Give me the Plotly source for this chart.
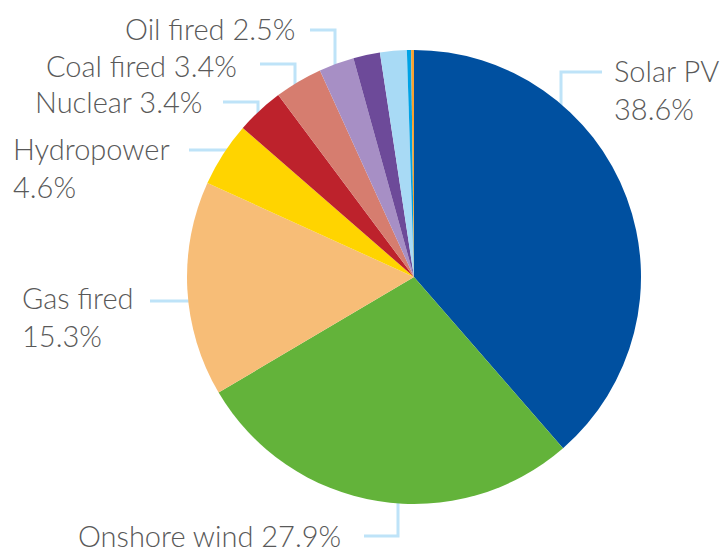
import plotly.graph_objects as go

W, H = 723, 552

# ---- data ----
labels = ["Solar PV", "Onshore wind", "Gas fired", "Hydropower", "Nuclear",
          "Coal fired", "Oil fired", "Other A", "Other B", "Other C", "Other D"]
values = [38.6, 27.9, 15.3, 4.6, 3.4, 3.4, 2.5, 1.9, 1.9, 0.3, 0.2]
colors = ["#0050A0", "#63B33A", "#F7BD77", "#FFD400", "#BD222C",
          "#D67D6F", "#A78FC5", "#6D4A99", "#A8DAF5", "#00A2E5", "#F7A02E"]

# ---- label layout (pixel positions) ----
label_specs = {
    "Solar PV":     dict(x=612, y=89.5, anchor="left", br=True,
                         path=[(602, 72), (561, 72), (561, 110)]),
    "Onshore wind": dict(x=343, y=535, anchor="right", br=False,
                         path=[(364, 536), (398, 536), (398, 495)]),
    "Gas fired":    dict(x=20, y=316.5, anchor="left", br=True,
                         path=[(150, 301), (200, 301)]),
    "Hydropower":   dict(x=11, y=167.5, anchor="left", br=True,
                         path=[(189, 150), (235, 150)]),
    "Nuclear":      dict(x=204, y=102, anchor="right", br=False,
                         path=[(223, 102), (258, 102), (258, 122)]),
    "Coal fired":   dict(x=239, y=66, anchor="right", br=False,
                         path=[(260, 64), (295, 64), (295, 92)]),
    "Oil fired":    dict(x=297, y=28, anchor="right", br=False,
                         path=[(310, 30), (335, 30), (335, 72)]),
}

def px(x, y):
    return x / W, 1 - y / H

cx, cy, r = 414, 277, 227

fig = go.Figure(go.Pie(
    labels=labels, values=values, sort=False, direction="clockwise",
    rotation=0, marker=dict(colors=colors, line=dict(width=0)),
    textinfo="none", hoverinfo="label+percent", showlegend=False,
    domain=dict(x=[(cx - r) / W, (cx + r) / W],
                y=[1 - (cy + r) / H, 1 - (cy - r) / H]),
))

annotations, shapes = [], []
val = dict(zip(labels, values))
for name, s in label_specs.items():
    sep = "<br>" if s["br"] else " "
    ax, ay = px(s["x"], s["y"])
    annotations.append(dict(
        text=f"{name}{sep}{val[name]}%", x=ax, y=ay, xref="paper", yref="paper",
        xanchor=s["anchor"], yanchor="middle", showarrow=False, align="left",
        font=dict(family="Lato", size=29, color="#595959", weight=300)))
    pts = [px(*p) for p in s["path"]]
    d = "M " + " L ".join(f"{a},{b}" for a, b in pts)
    shapes.append(dict(type="path", path=d, xref="paper", yref="paper",
                       line=dict(color="#BEE3F8", width=3), layer="below"))

fig.update_layout(width=W, height=H, margin=dict(l=0, r=0, t=0, b=0),
                  paper_bgcolor="white", plot_bgcolor="white",
                  annotations=annotations, shapes=shapes)
fig.write_html("out.html", config={"displayModeBar": False},
               post_script="document.body.style.margin='0px';")
